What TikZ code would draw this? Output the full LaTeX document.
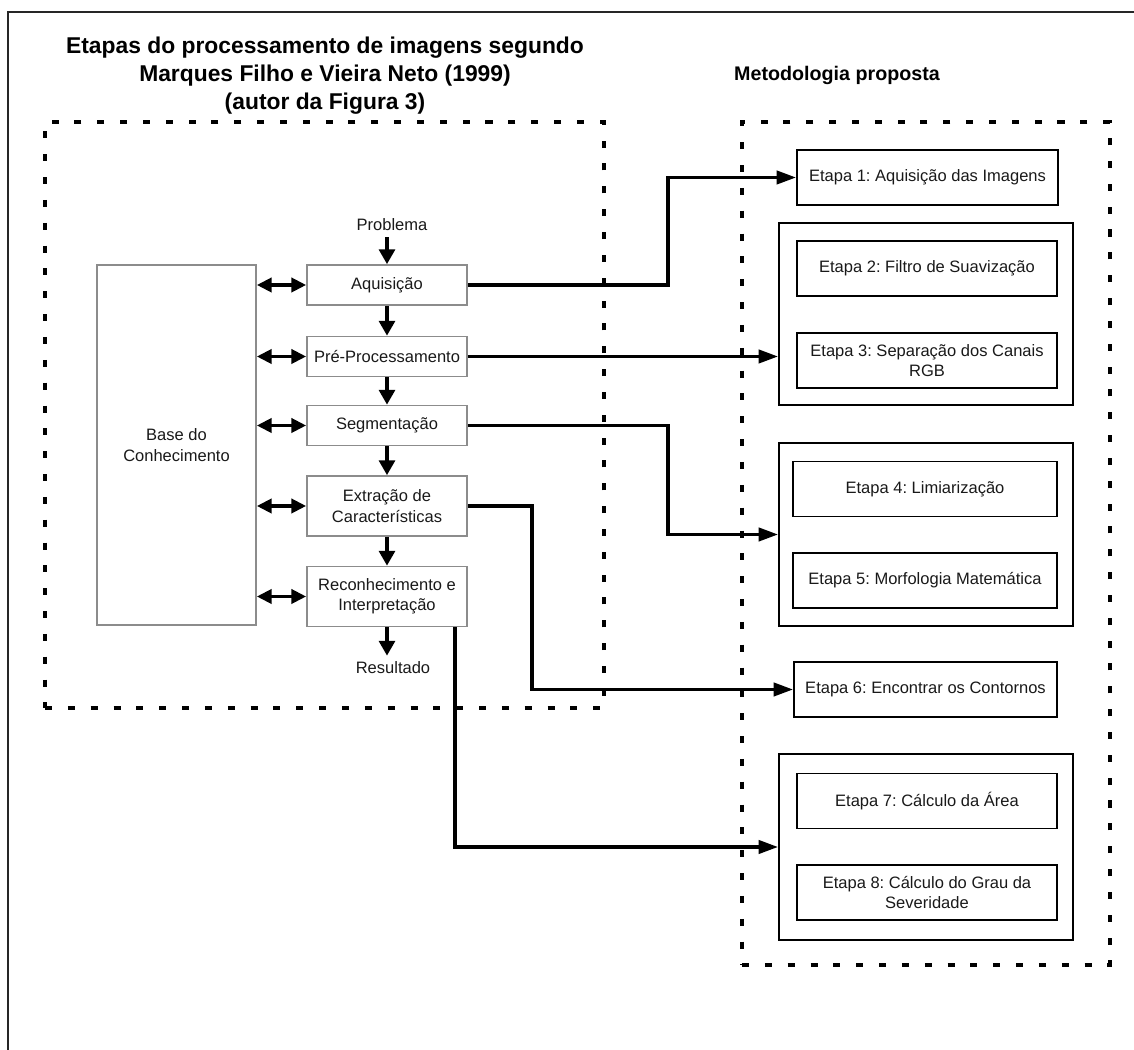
\documentclass[tikz,border=0pt]{standalone}
\usepackage{fontspec}
\setmainfont{Liberation Sans}
\usetikzlibrary{arrows.meta}
\frenchspacing

\begin{document}
\begin{tikzpicture}[x=0.02cm,y=-0.02cm]

\tikzset{
  TitleStyle/.style = {align=center, font=\fontsize{13}{16}\selectfont\bfseries},
  TextStyle/.style = {align=center, text=black!90, font=\fontsize{9.4}{11.5}\selectfont},
  StageStyle/.style = {TextStyle, draw=black!45, line width=0.9pt,
                       minimum width=3.2cm, inner sep=1pt},
  StepStyle/.style = {TextStyle, draw, line width=1.1pt,
                      minimum width=5.2cm, minimum height=1.1cm, inner sep=1pt},
  GroupStyle/.style = {draw, line width=1.1pt, minimum width=5.88cm},
  FrameStyle/.style = {draw, line width=2.2pt, dash pattern=on 4pt off 9pt},
  FlowStyle/.style = {line width=1.9pt, -{Triangle[length=11pt,width=7.5pt]}},
  DownStyle/.style = {line width=2.4pt, -{Triangle[length=8.5pt,width=9pt]}},
  LinkStyle/.style = {line width=2.2pt,
                      {Triangle[length=8.5pt,width=8pt]}-{Triangle[length=8.5pt,width=8pt]}}
}
\useasboundingbox (0,0) rectangle (1134,1050);

  % outer frame
  \draw[line width=1pt, black!85] (1140,12) -- (8,12) -- (8,1060);

  % titles
  \node[TitleStyle] (tleft) at (325,76) {Etapas do processamento de imagens segundo\\
        Marques Filho e Vieira Neto (1999)\\(autor da Figura 3)};
  \node[TitleStyle, font=\fontsize{11.2}{14}\selectfont\bfseries] (tright) at (837,75) {Metodologia proposta};

  % dashed frames
  \node[FrameStyle, minimum width=11.18cm, minimum height=11.72cm] (fleft) at (324.5,415) {};
  \node[FrameStyle, minimum width=7.36cm, minimum height=16.86cm] (fright) at (926,543.5) {};

  % left side: stages
  \node[StageStyle, minimum width=3.18cm, minimum height=7.2cm] (base) at (176.5,445) {Base do\\Conhecimento};
  \node[TextStyle] (prob) at (392,225) {Problema};
  \node[StageStyle, minimum height=0.8cm] (aq) at (387,285) {Aquisição};
  \node[StageStyle, minimum height=0.8cm] (pre) at (387,356.5) {Pré-Processamento};
  \node[StageStyle, minimum height=0.8cm] (seg) at (387,425.5) {Segmentação};
  \node[StageStyle, minimum height=1.2cm] (ext) at (387,506) {Extração de\\Características};
  \node[StageStyle, minimum height=1.2cm] (rec) at (387,596.5) {Reconhecimento e\\Interpretação};
  \node[TextStyle] (res) at (393,668) {Resultado};

  \draw[DownStyle] (aq.north |- prob.south) -- (aq.north);
  \draw[DownStyle] (aq) -- (pre);
  \draw[DownStyle] (pre) -- (seg);
  \draw[DownStyle] (seg) -- (ext);
  \draw[DownStyle] (ext) -- (rec);
  \draw[DownStyle] (rec.south) -- (rec.south |- res.north);

  \foreach \s in {aq,pre,seg,ext,rec}
    \draw[LinkStyle] (\s.west -| base.east) -- (\s.west);

  % right side: steps
  \node[StepStyle, minimum width=5.22cm] (e1) at (927.5,177.5) {Etapa 1: Aquisição das Imagens};
  \node[GroupStyle, minimum height=3.64cm] (g23) at (926,314) {};
  \node[StepStyle] (e2) at (927,268.5) {Etapa 2: Filtro de Suavização};
  \node[StepStyle] (e3) at (927,360.5) {Etapa 3: Separação dos Canais\\RGB};
  \node[GroupStyle, minimum height=3.66cm] (g45) at (926,534.5) {};
  \node[StepStyle, minimum width=5.28cm] (e4) at (925,489) {Etapa 4: Limiarização};
  \node[StepStyle, minimum width=5.28cm] (e5) at (925,580.5) {Etapa 5: Morfologia Matemática};
  \node[StepStyle, minimum width=5.26cm] (e6) at (925.5,689.5) {Etapa 6: Encontrar os Contornos};
  \node[GroupStyle, minimum height=3.72cm] (g78) at (926,847) {};
  \node[StepStyle] (e7) at (927,801) {Etapa 7: Cálculo da Área};
  \node[StepStyle] (e8) at (927,892.5) {Etapa 8: Cálculo do Grau da\\Severidade};

  % connectors
  \coordinate (j1) at (668,0);
  \coordinate (j2) at (532,0);
  \coordinate (j3) at (455,0);
  \draw[FlowStyle] (aq.east) -- (aq.east -| j1) |- (e1.west);
  \draw[FlowStyle] (pre.east) -- (pre.east -| g23.west);
  \draw[FlowStyle] (seg.east) -- (seg.east -| j1) |- (g45.west);
  \draw[FlowStyle] (ext.east) -- (ext.east -| j2) |- (e6.west);
  \draw[FlowStyle] (rec.south -| j3) |- (g78.west);

\end{tikzpicture}
\end{document}
